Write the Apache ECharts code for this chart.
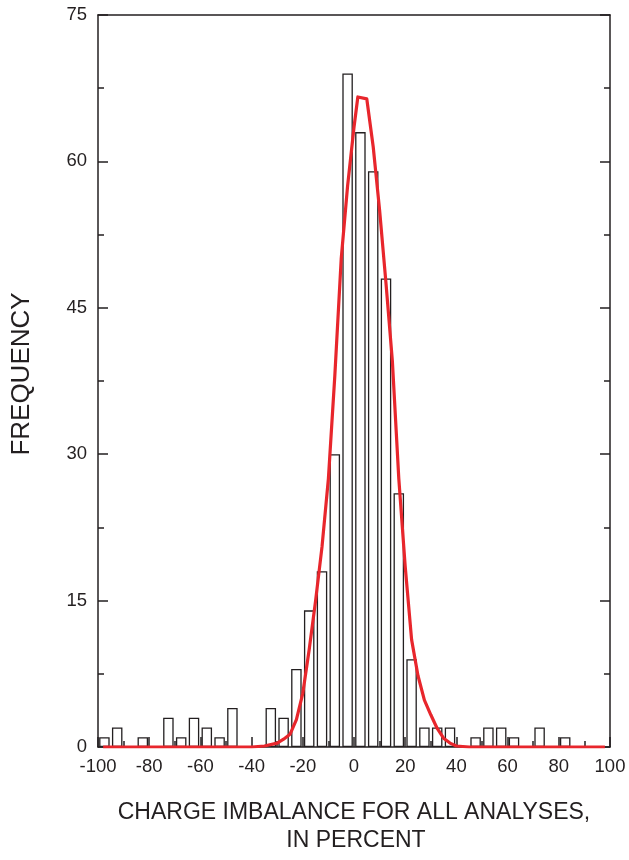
<!DOCTYPE html>
<html>
<head>
<meta charset="utf-8">
<script src="https://cdn.jsdelivr.net/npm/echarts@6/dist/echarts.min.js"></script>
<style>
  html, body { margin: 0; padding: 0; background: #fff; }
  #chart { width: 629px; height: 860px; }
</style>
</head>
<body>
<div id="chart"></div>
<script>
// histogram bins, left edges every 5 percent
const binLeft = [-100, -95, -90, -85, -80, -75, -70, -65, -60, -55,
                 -50, -45, -40, -35, -30, -25, -20, -15, -10, -5,
                 0, 5, 10, 15, 20, 25, 30, 35, 40, 45,
                 50, 55, 60, 65, 70, 75, 80, 85, 90, 95]
const counts = [1, 2, 0, 1, 0, 3, 1, 3, 2, 1,
                4, 0, 0, 4, 3, 8, 14, 18, 30, 69,
                63, 59, 48, 26, 9, 2, 2, 2, 0, 1,
                2, 2, 1, 0, 2, 0, 1, 0, 0, 0]
const BIN = 5

// fitted curve
const curveX = [-98, -40, -35, -30, -27.5, -25, -22.5, -20, -17.5, -15, -12.5, -10, -7.5, -5, -2.5, 0,
                1.5, 5, 7.5, 10, 12.5, 15, 17.5, 20, 22.5, 25, 27.5, 30, 32.5, 35, 37.5, 40, 45, 98]
const curveY = [0, 0, 0.1, 0.4, 0.8, 1.3, 2.8, 5.5, 10, 15, 20.5, 27.5, 38, 50, 57.5, 63.5,
                66.6, 66.4, 61.5, 55, 47.5, 39.5, 27.5, 18.5, 11, 7.3, 4.8, 3.3, 1.9, 0.9, 0.4, 0.1, 0, 0]

const xTicks = { min: -100, max: 100, step: 20 }
const yTicks = { min: 0, max: 75, step: 15 }

const INK = '#231f20'
const chart = echarts.init(document.getElementById('chart'))

const barData = []
binLeft.forEach((x, i) => {
  if (counts[i] > 0) barData.push([x + BIN / 2, counts[i]])
})
const lineData = curveX.map((x, i) => [x, curveY[i]])

const labelFont = { fontFamily: 'Liberation Sans, Arial, sans-serif', fontSize: 18.5, color: INK }
const axisLine = { show: true, onZero: false, lineStyle: { color: INK, width: 1.5 } }

chart.setOption({
  animation: false,
  grid: { left: 98, right: 19, top: 15, bottom: 113 },
  xAxis: [
    {
      type: 'value', min: xTicks.min, max: xTicks.max, interval: xTicks.step,
      axisLine: axisLine,
      axisTick: { inside: true, length: 10, lineStyle: { color: INK, width: 1.5 } },
      minorTick: { show: true, splitNumber: 2, length: 6, lineStyle: { color: INK, width: 1.5 } },
      axisLabel: Object.assign({ margin: 10 }, labelFont),
      splitLine: { show: false }
    },
    {
      type: 'value', position: 'top', min: xTicks.min, max: xTicks.max, interval: xTicks.step,
      axisLine: axisLine,
      axisTick: { show: false }, axisLabel: { show: false }, splitLine: { show: false }
    }
  ],
  yAxis: [
    {
      type: 'value', min: yTicks.min, max: yTicks.max, interval: yTicks.step,
      axisLine: axisLine,
      axisTick: { show: true, inside: true, length: 10, lineStyle: { color: INK, width: 1.5 } },
      minorTick: { show: true, splitNumber: 2, length: 6, lineStyle: { color: INK, width: 1.5 } },
      axisLabel: Object.assign({ margin: 11 }, labelFont),
      splitLine: { show: false }
    },
    {
      type: 'value', position: 'right', min: yTicks.min, max: yTicks.max, interval: yTicks.step,
      axisLine: axisLine,
      axisTick: { show: true, inside: true, length: 10, lineStyle: { color: INK, width: 1.5 } },
      minorTick: { show: true, splitNumber: 2, length: 6, lineStyle: { color: INK, width: 1.5 } },
      axisLabel: { show: false },
      splitLine: { show: false }
    }
  ],
  series: [
    {
      type: 'bar',
      data: barData,
      barWidth: 10.5,
      itemStyle: { color: '#fff', borderColor: INK, borderWidth: 1.3 },
      z: 2
    },
    {
      type: 'line',
      data: lineData,
      showSymbol: false,
      smooth: false,
      lineStyle: { color: '#e8262c', width: 3.2, join: 'round' },
      z: 3
    }
  ],
  graphic: [
    {
      type: 'text', x: 22, y: 374, rotation: Math.PI / 2,
      style: {
        text: 'FREQUENCY', fill: INK, align: 'center', verticalAlign: 'middle',
        fontFamily: 'Liberation Sans, Arial, sans-serif', fontSize: 26
      }
    },
    {
      type: 'text', x: 354, y: 813,
      style: {
        text: 'CHARGE IMBALANCE FOR ALL ANALYSES,', fill: INK, align: 'center', verticalAlign: 'middle',
        fontFamily: 'Liberation Sans, Arial, sans-serif', fontSize: 23
      }
    },
    {
      type: 'text', x: 356, y: 841,
      style: {
        text: 'IN PERCENT', fill: INK, align: 'center', verticalAlign: 'middle',
        fontFamily: 'Liberation Sans, Arial, sans-serif', fontSize: 23
      }
    }
  ]
})
</script>
</body>
</html>
